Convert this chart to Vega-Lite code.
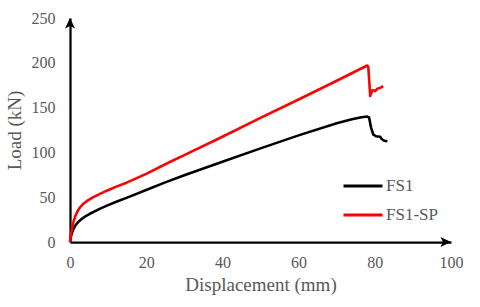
{
  "$schema": "https://vega.github.io/schema/vega-lite/v6.json",
  "autosize": "none",
  "width": 381,
  "height": 224,
  "padding": {"left": 70, "top": 18, "right": 29, "bottom": 65},
  "background": "white",
  "config": {
    "view": {"stroke": null},
    "font": "Liberation Serif",
    "axis": {
      "grid": false,
      "ticks": false,
      "tickSize": 0,
      "domainColor": "#000000",
      "domainWidth": 2.25,
      "labelFont": "Liberation Serif",
      "labelFontSize": 16,
      "labelColor": "#595959",
      "titleFont": "Liberation Serif",
      "titleFontSize": 19,
      "titleFontWeight": "normal",
      "titleColor": "#595959"
    },
    "legend": {
      "labelFont": "Liberation Serif",
      "labelFontSize": 17,
      "labelColor": "#595959"
    }
  },
  "datasets": {
    "curves": [
      {"series": "FS1", "disp": 0, "load": 0},
      {"series": "FS1", "disp": 0.2, "load": 5},
      {"series": "FS1", "disp": 0.5, "load": 10},
      {"series": "FS1", "disp": 0.9, "load": 14.5},
      {"series": "FS1", "disp": 1.5, "load": 19},
      {"series": "FS1", "disp": 2.2, "load": 22.5},
      {"series": "FS1", "disp": 3, "load": 25.5},
      {"series": "FS1", "disp": 4, "load": 28.5},
      {"series": "FS1", "disp": 5.2, "load": 31.5},
      {"series": "FS1", "disp": 6.6, "load": 34.5},
      {"series": "FS1", "disp": 8.2, "load": 37.8},
      {"series": "FS1", "disp": 10, "load": 41.2},
      {"series": "FS1", "disp": 12.5, "load": 45.5},
      {"series": "FS1", "disp": 15, "load": 49.5},
      {"series": "FS1", "disp": 20, "load": 58},
      {"series": "FS1", "disp": 25, "load": 66.5},
      {"series": "FS1", "disp": 30, "load": 74.5},
      {"series": "FS1", "disp": 40, "load": 89.5},
      {"series": "FS1", "disp": 50, "load": 104.5},
      {"series": "FS1", "disp": 60, "load": 119},
      {"series": "FS1", "disp": 70, "load": 132.5},
      {"series": "FS1", "disp": 74, "load": 137},
      {"series": "FS1", "disp": 76.5, "load": 139.3},
      {"series": "FS1", "disp": 78, "load": 140},
      {"series": "FS1", "disp": 78.5, "load": 139},
      {"series": "FS1", "disp": 79, "load": 128},
      {"series": "FS1", "disp": 79.6, "load": 120},
      {"series": "FS1", "disp": 80.3, "load": 118},
      {"series": "FS1", "disp": 81.4, "load": 117.5},
      {"series": "FS1", "disp": 81.8, "load": 115},
      {"series": "FS1", "disp": 82.5, "load": 113},
      {"series": "FS1", "disp": 83.3, "load": 112.5},
      {"series": "FS1-SP", "disp": 0, "load": 0},
      {"series": "FS1-SP", "disp": 0.2, "load": 7},
      {"series": "FS1-SP", "disp": 0.5, "load": 15},
      {"series": "FS1-SP", "disp": 0.9, "load": 22.5},
      {"series": "FS1-SP", "disp": 1.4, "load": 29},
      {"series": "FS1-SP", "disp": 2, "load": 34.5},
      {"series": "FS1-SP", "disp": 2.7, "load": 39},
      {"series": "FS1-SP", "disp": 3.6, "load": 43},
      {"series": "FS1-SP", "disp": 4.7, "load": 46.5},
      {"series": "FS1-SP", "disp": 6, "load": 49.8},
      {"series": "FS1-SP", "disp": 7.6, "load": 53.2},
      {"series": "FS1-SP", "disp": 9.5, "load": 57},
      {"series": "FS1-SP", "disp": 12, "load": 61.5},
      {"series": "FS1-SP", "disp": 15, "load": 66.5},
      {"series": "FS1-SP", "disp": 20, "load": 76},
      {"series": "FS1-SP", "disp": 26.2, "load": 89.3},
      {"series": "FS1-SP", "disp": 30, "load": 97},
      {"series": "FS1-SP", "disp": 40, "load": 117.5},
      {"series": "FS1-SP", "disp": 50, "load": 138.5},
      {"series": "FS1-SP", "disp": 60, "load": 159},
      {"series": "FS1-SP", "disp": 70, "load": 180},
      {"series": "FS1-SP", "disp": 78, "load": 197},
      {"series": "FS1-SP", "disp": 78.3, "load": 195},
      {"series": "FS1-SP", "disp": 78.8, "load": 163},
      {"series": "FS1-SP", "disp": 79.4, "load": 169.5},
      {"series": "FS1-SP", "disp": 80.1, "load": 168.5},
      {"series": "FS1-SP", "disp": 80.7, "load": 171},
      {"series": "FS1-SP", "disp": 81.4, "load": 172},
      {"series": "FS1-SP", "disp": 82.2, "load": 174}
    ],
    "arrows": [
      {"disp": 0, "load": 250, "dir": "up"},
      {"disp": 100, "load": 0, "dir": "right"}
    ]
  },
  "layer": [
    {
      "data": {"name": "curves"},
      "mark": {"type": "line", "strokeWidth": 2.6, "strokeJoin": "round", "interpolate": "linear"},
      "encoding": {
        "x": {
          "field": "disp", "type": "quantitative",
          "scale": {"domain": [0, 100], "nice": false},
          "axis": {"title": "Displacement (mm)", "values": [0, 20, 40, 60, 80, 100], "labelPadding": 12, "titlePadding": 5, "labelFlush": false, "labelFont": "Liberation Serif", "titleFont": "Liberation Serif"}
        },
        "y": {
          "field": "load", "type": "quantitative",
          "scale": {"domain": [0, 250], "nice": false},
          "axis": {"title": "Load (kN)", "values": [0, 50, 100, 150, 200, 250], "labelPadding": 15, "titlePadding": 7, "labelFlush": false, "labelFont": "Liberation Serif", "titleFont": "Liberation Serif"}
        },
        "color": {
          "field": "series", "type": "nominal",
          "scale": {"domain": ["FS1", "FS1-SP"], "range": ["#000000", "#FF0000"]},
          "legend": {
            "title": null,
            "orient": "none",
            "legendX": 272,
            "legendY": 147,
            "symbolType": "stroke",
            "symbolSize": 1521,
            "symbolStrokeWidth": 3,
            "labelOffset": 2,
            "rowPadding": -16,
            "padding": 0,
            "labelFont": "Liberation Serif"
          }
        }
      }
    },
    {
      "data": {"name": "arrows"},
      "transform": [{"filter": "datum.dir === 'up'"}],
      "mark": {"type": "point", "filled": true, "color": "#000000", "opacity": 1, "size": 400, "shape": "M0,0L-0.5,1.05L0,0.8L0.5,1.05Z"},
      "encoding": {
        "x": {"field": "disp", "type": "quantitative"},
        "y": {"field": "load", "type": "quantitative"}
      }
    },
    {
      "data": {"name": "arrows"},
      "transform": [{"filter": "datum.dir === 'right'"}],
      "mark": {"type": "point", "filled": true, "color": "#000000", "opacity": 1, "size": 400, "shape": "M0,0L-1.05,-0.5L-0.8,0L-1.05,0.5Z"},
      "encoding": {
        "x": {"field": "disp", "type": "quantitative"},
        "y": {"field": "load", "type": "quantitative"}
      }
    }
  ]
}
